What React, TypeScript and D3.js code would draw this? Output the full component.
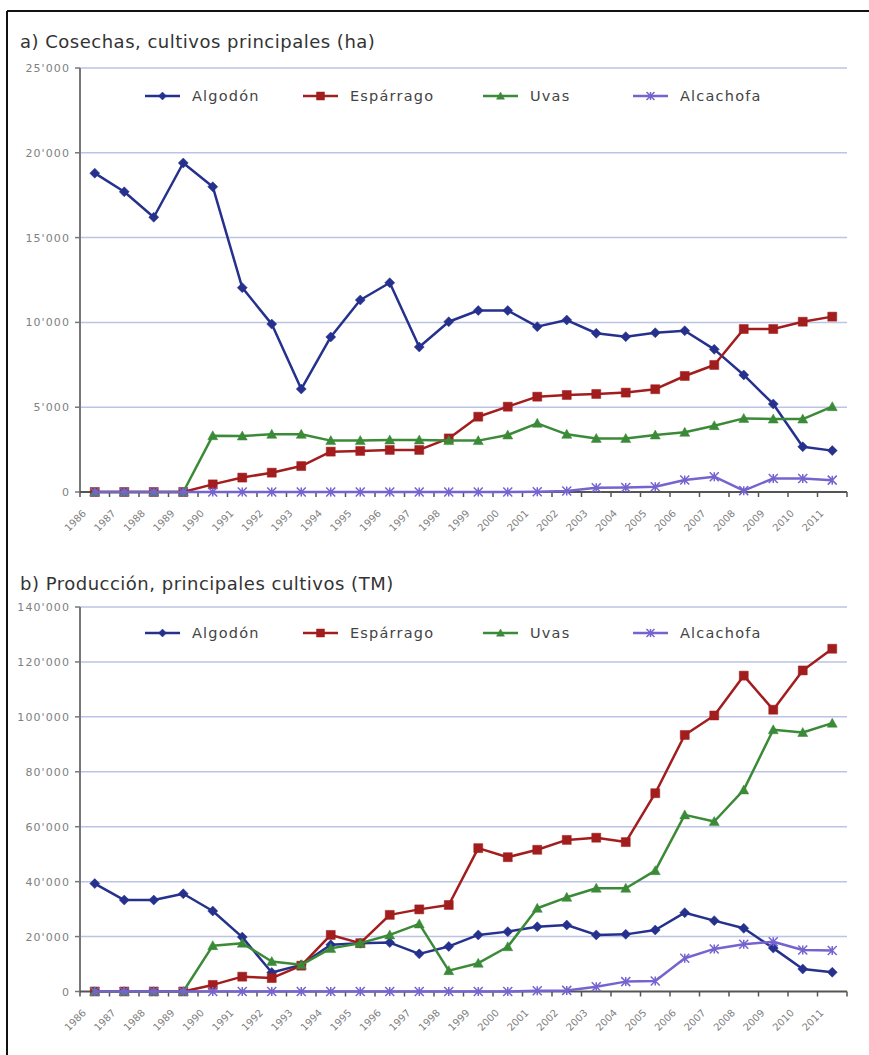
import React, { useEffect, useRef } from "react";
import * as d3 from "d3";

// categories
const years = [
  "1986", "1987", "1988", "1989", "1990", "1991", "1992", "1993", "1994",
  "1995", "1996", "1997", "1998", "1999", "2000", "2001", "2002", "2003",
  "2004", "2005", "2006", "2007", "2008", "2009", "2010", "2011",
];

const seriesNames = ["Algodón", "Espárrago", "Uvas", "Alcachofa"];
const seriesColors = ["#25318c", "#a21d1d", "#3b8a38", "#7564cf"];
const seriesMarkers = ["diamond", "square", "triangle", "x"];

// a) Cosechas (ha)
const cosechasAlgodon = [
  18800, 17700, 16200, 19400, 18000, 12050, 9900, 6070, 9140, 11320, 12340,
  8550, 10040, 10700, 10700, 9750, 10140, 9360, 9160, 9390, 9510, 8410, 6900,
  5190, 2670, 2440,
];
const cosechasEsparrago = [
  0, 0, 0, 0, 450, 850, 1140, 1530, 2380, 2420, 2480, 2480, 3160, 4440, 5030,
  5620, 5720, 5780, 5860, 6060, 6840, 7490, 9610, 9610, 10040, 10340,
];
const cosechasUvas = [
  0, 0, 0, 0, 3320, 3300, 3400, 3400, 3030, 3030, 3070, 3070, 3030, 3030, 3360,
  4050, 3400, 3160, 3160, 3360, 3520, 3910, 4340, 4300, 4300, 5030,
];
const cosechasAlcachofa = [
  0, 0, 0, 0, 0, 0, 0, 0, 0, 0, 0, 0, 0, 0, 0, 20, 60, 250, 270, 310, 710,
  900, 80, 800, 800, 700,
];

// b) Producción (TM)
const produccionAlgodon = [
  39300, 33300, 33300, 35600, 29300, 19800, 6900, 9700, 17000, 17600, 17800,
  13700, 16400, 20600, 21800, 23600, 24200, 20600, 20800, 22400, 28700, 25800,
  23000, 15800, 8200, 7000,
];
const produccionEsparrago = [
  0, 0, 0, 0, 2400, 5400, 4900, 9400, 20600, 17600, 27900, 29900, 31500, 52200,
  48900, 51600, 55200, 56000, 54400, 72200, 93400, 100500, 115000, 102600,
  116900, 124800,
];
const produccionUvas = [
  0, 0, 0, 0, 16700, 17600, 10900, 9700, 15700, 17600, 20600, 24600, 7600,
  10300, 16300, 30300, 34300, 37600, 37600, 44000, 64300, 61900, 73400, 95300,
  94300, 97700,
];
const produccionAlcachofa = [
  0, 0, 0, 0, 0, 0, 0, 0, 0, 0, 0, 0, 0, 0, 0, 300, 400, 1750, 3600, 3800,
  12100, 15500, 17200, 18100, 15100, 14900,
];

const cosechasTicks = [0, 5000, 10000, 15000, 20000, 25000];
const produccionTicks = [0, 20000, 40000, 60000, 80000, 100000, 120000, 140000];

const panels = [
  {
    title: "a) Cosechas, cultivos principales (ha)",
    series: [cosechasAlgodon, cosechasEsparrago, cosechasUvas, cosechasAlcachofa],
    ticks: cosechasTicks,
    titleY: 48,
    top: 68,
    bottom: 492,
    legendY: 96,
  },
  {
    title: "b) Producción, principales cultivos (TM)",
    series: [produccionAlgodon, produccionEsparrago, produccionUvas, produccionAlcachofa],
    ticks: produccionTicks,
    titleY: 590,
    top: 607,
    bottom: 991.5,
    legendY: 633,
  },
];

const legendX = [145, 303, 483, 633];
const fontFamily = "'DejaVu Sans', sans-serif";

const fmt = (v: number) => d3.format(",")(v).replace(/,/g, "'");

function markerPath(type: string, r: number) {
  if (type === "diamond") return `M0,${-r}L${r},0L0,${r}L${-r},0Z`;
  if (type === "square") return `M${-r},${-r}H${r}V${r}H${-r}Z`;
  if (type === "triangle") return `M0,${-r}L${r},${r * 0.8}L${-r},${r * 0.8}Z`;
  return `M${-r},${-r}L${r},${r}M${-r},${r}L${r},${-r}M0,${-r}V${r}`;
}

const App = () => {
  const ref = useRef<SVGSVGElement>(null);

  useEffect(() => {
    const svg = d3.select(ref.current);
    svg.selectAll("*").remove();

    // outer frame
    svg.append("line").attr("x1", 7).attr("x2", 869).attr("y1", 11).attr("y2", 11)
      .attr("stroke", "#111").attr("stroke-width", 2);
    svg.append("line").attr("x1", 7).attr("x2", 7).attr("y1", 11).attr("y2", 1055)
      .attr("stroke", "#111").attr("stroke-width", 2);

    const left = 80;
    const right = 847;

    panels.forEach((p) => {
      const g = svg.append("g");

      const x = d3.scaleBand().domain(years).range([left, right]);
      const y = d3
        .scaleLinear()
        .domain([0, d3.max(p.ticks) as number])
        .range([p.bottom, p.top]);
      const cx = (i: number) => (x(years[i]) as number) + x.bandwidth() / 2;

      g.append("text")
        .attr("x", 20)
        .attr("y", p.titleY)
        .attr("font-family", fontFamily)
        .attr("font-size", 18)
        .attr("letter-spacing", 0.5)
        .attr("fill", "#333")
        .text(p.title);

      // gridlines
      g.selectAll(".grid")
        .data(p.ticks.slice(1))
        .enter()
        .append("line")
        .attr("x1", left)
        .attr("x2", right)
        .attr("y1", (d) => y(d))
        .attr("y2", (d) => y(d))
        .attr("stroke", "#bcc3e4")
        .attr("stroke-width", 1.5);

      // y axis
      g.append("line")
        .attr("x1", left).attr("x2", left)
        .attr("y1", p.top).attr("y2", p.bottom)
        .attr("stroke", "#777").attr("stroke-width", 2);
      g.selectAll(".ytick")
        .data(p.ticks)
        .enter()
        .append("line")
        .attr("x1", left - 5)
        .attr("x2", left)
        .attr("y1", (d) => y(d))
        .attr("y2", (d) => y(d))
        .attr("stroke", "#777")
        .attr("stroke-width", 1.5);
      g.selectAll(".ylab")
        .data(p.ticks)
        .enter()
        .append("text")
        .attr("x", left - 10)
        .attr("y", (d) => y(d) + 4)
        .attr("text-anchor", "end")
        .attr("font-family", fontFamily)
        .attr("font-size", 11)
        .attr("letter-spacing", 1.1)
        .attr("fill", "#808080")
        .text((d) => fmt(d));

      // x axis
      g.append("line")
        .attr("x1", left).attr("x2", right)
        .attr("y1", p.bottom).attr("y2", p.bottom)
        .attr("stroke", "#555").attr("stroke-width", 2);
      g.selectAll(".xtick")
        .data(years.concat(["end"]))
        .enter()
        .append("line")
        .attr("x1", (d, i) => left + i * x.bandwidth())
        .attr("x2", (d, i) => left + i * x.bandwidth())
        .attr("y1", p.bottom)
        .attr("y2", p.bottom + 5)
        .attr("stroke", "#555")
        .attr("stroke-width", 1.5);
      g.selectAll(".xlab")
        .data(years)
        .enter()
        .append("text")
        .attr("transform", (d, i) => `translate(${cx(i) - 8},${p.bottom + 22})rotate(-45)`)
        .attr("text-anchor", "end")
        .attr("font-family", fontFamily)
        .attr("font-size", 10)
        .attr("fill", "#808080")
        .text((d) => d);

      // series
      p.series.forEach((vals, si) => {
        const line = d3
          .line<number>()
          .x((d, i) => cx(i))
          .y((d) => y(d));
        g.append("path")
          .attr("d", line(vals) as string)
          .attr("fill", "none")
          .attr("stroke", seriesColors[si])
          .attr("stroke-width", 2.5)
          .attr("stroke-linejoin", "round");
        const m = seriesMarkers[si];
        g.selectAll(`.m${si}`)
          .data(vals)
          .enter()
          .append("path")
          .attr("transform", (d, i) => `translate(${cx(i)},${y(d)})`)
          .attr("d", markerPath(m, m === "square" ? 4.5 : m === "x" ? 4.5 : 5))
          .attr("fill", m === "x" ? "none" : seriesColors[si])
          .attr("stroke", seriesColors[si])
          .attr("stroke-width", m === "x" ? 1.5 : 0.5);
      });

      // legend
      seriesNames.forEach((name, si) => {
        const lx = legendX[si];
        const lg = g.append("g").attr("transform", `translate(${lx},${p.legendY})`);
        lg.append("line")
          .attr("x1", 0).attr("x2", 35).attr("y1", 0).attr("y2", 0)
          .attr("stroke", seriesColors[si]).attr("stroke-width", 2.5);
        const m = seriesMarkers[si];
        lg.append("path")
          .attr("transform", "translate(17.5,0)")
          .attr("d", markerPath(m, 4))
          .attr("fill", m === "x" ? "none" : seriesColors[si])
          .attr("stroke", seriesColors[si])
          .attr("stroke-width", m === "x" ? 1.5 : 0.5);
        lg.append("text")
          .attr("x", 47)
          .attr("y", 5)
          .attr("font-family", fontFamily)
          .attr("font-size", 14.5)
          .attr("letter-spacing", 1.2)
          .attr("fill", "#444")
          .text(name);
      });
    });
  }, []);

  return (
    <svg
      ref={ref}
      width={869}
      height={1055}
      style={{ position: "absolute", left: 0, top: 0, background: "#fff" }}
    />
  );
};

export default App;
